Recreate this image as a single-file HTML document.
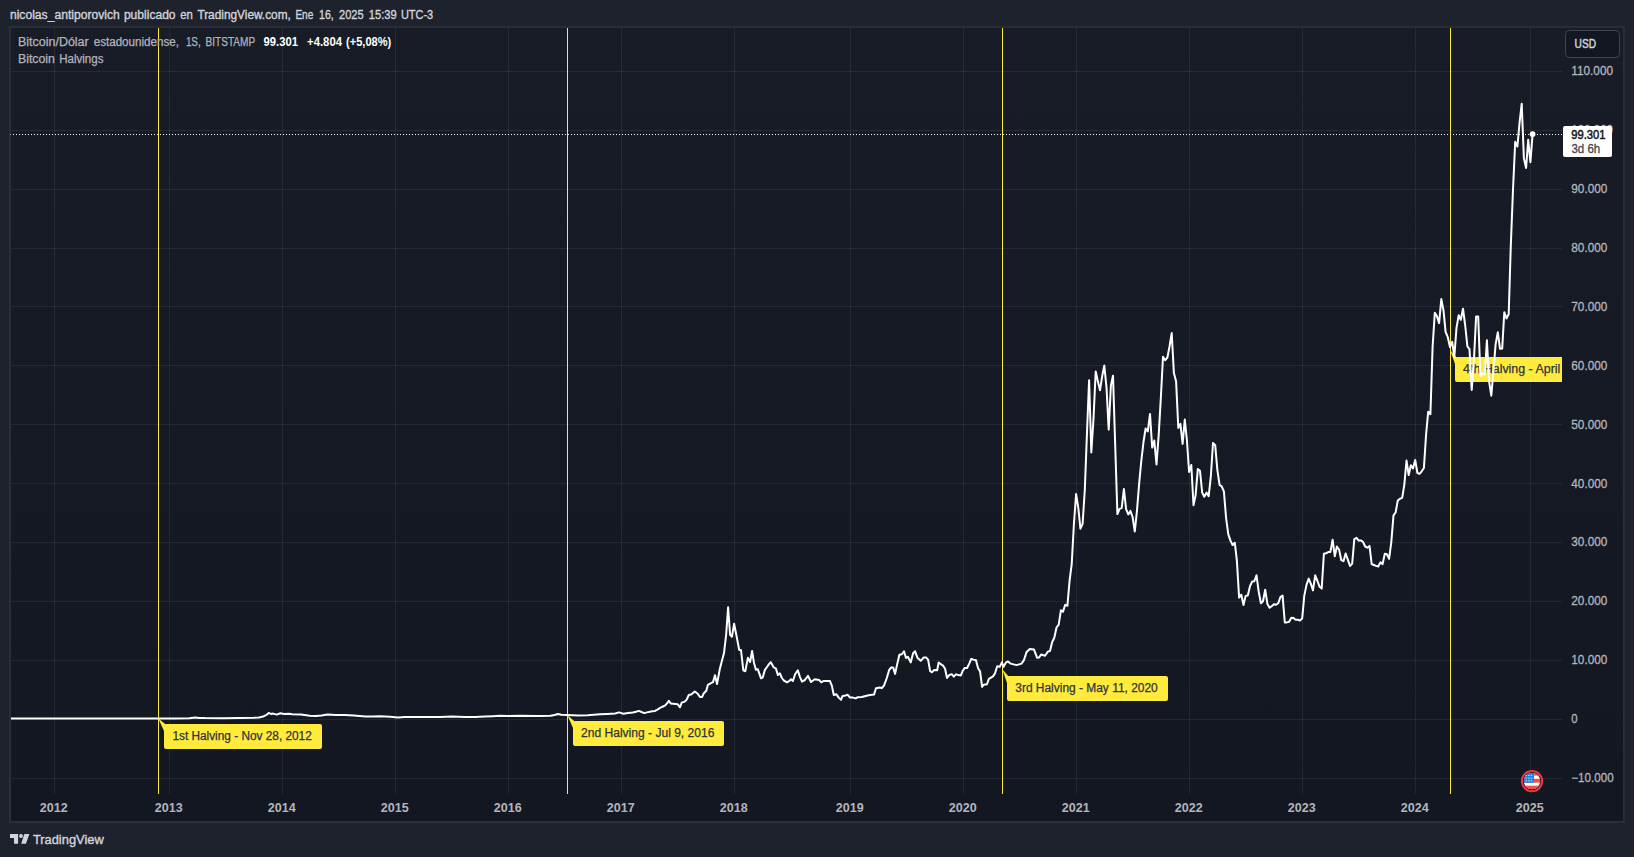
<!DOCTYPE html>
<html lang="es"><head><meta charset="utf-8"><title>Bitcoin Halvings</title>
<style>
html,body{margin:0;padding:0;background:#1e222d;}
body{width:1634px;height:857px;overflow:hidden;position:relative;font-family:'Liberation Sans', sans-serif;}
#frame{position:absolute;left:9px;top:26px;width:1616px;height:797px;box-sizing:border-box;border:2px solid #2a2e39;background:linear-gradient(#181c27,#131722);}
svg{position:absolute;left:0;top:0;}
text{font-family:'Liberation Sans', sans-serif;}
.ax{font-size:12px;fill:#b2b5be;stroke:#b2b5be;stroke-width:0.3px;}
.yr{font-size:12px;fill:#b2b5be;font-weight:bold;text-anchor:middle;}
.lb{font-size:12px;fill:#2f3241;stroke:#2f3241;stroke-width:0.25px;}
</style></head><body>
<div id="frame"></div>
<svg width="1634" height="857" viewBox="0 0 1634 857">
<defs><clipPath id="pane"><rect x="11" y="28" width="1551" height="766"/></clipPath></defs>

<text y="19" font-size="12" fill="#d1d4dc" stroke="#d1d4dc" stroke-width="0.35"><tspan x="9.9" textLength="109.9" lengthAdjust="spacingAndGlyphs">nicolas_antiporovich</tspan> <tspan x="123.9" textLength="51.7" lengthAdjust="spacingAndGlyphs">publicado</tspan> <tspan x="180.2" textLength="12.6" lengthAdjust="spacingAndGlyphs">en</tspan> <tspan x="197.4" textLength="93.4" lengthAdjust="spacingAndGlyphs">TradingView.com,</tspan> <tspan x="295.4" textLength="17.9" lengthAdjust="spacingAndGlyphs">Ene</tspan> <tspan x="319.1" textLength="14.7" lengthAdjust="spacingAndGlyphs">16,</tspan> <tspan x="339.0" textLength="24.6" lengthAdjust="spacingAndGlyphs">2025</tspan> <tspan x="368.8" textLength="27.8" lengthAdjust="spacingAndGlyphs">15:39</tspan> <tspan x="400.9" textLength="32.3" lengthAdjust="spacingAndGlyphs">UTC-3</tspan></text>
<g shape-rendering="crispEdges" fill="#f0f3fa" fill-opacity="0.07">
<rect x="54" y="28" width="1" height="766"/>
<rect x="169" y="28" width="1" height="766"/>
<rect x="282" y="28" width="1" height="766"/>
<rect x="395" y="28" width="1" height="766"/>
<rect x="508" y="28" width="1" height="766"/>
<rect x="621" y="28" width="1" height="766"/>
<rect x="734" y="28" width="1" height="766"/>
<rect x="850" y="28" width="1" height="766"/>
<rect x="963" y="28" width="1" height="766"/>
<rect x="1076" y="28" width="1" height="766"/>
<rect x="1189" y="28" width="1" height="766"/>
<rect x="1302" y="28" width="1" height="766"/>
<rect x="1415" y="28" width="1" height="766"/>
<rect x="1530" y="28" width="1" height="766"/>
<rect x="11" y="71" width="1551" height="1"/>
<rect x="11" y="130" width="1551" height="1"/>
<rect x="11" y="189" width="1551" height="1"/>
<rect x="11" y="248" width="1551" height="1"/>
<rect x="11" y="306" width="1551" height="1"/>
<rect x="11" y="365" width="1551" height="1"/>
<rect x="11" y="424" width="1551" height="1"/>
<rect x="11" y="483" width="1551" height="1"/>
<rect x="11" y="542" width="1551" height="1"/>
<rect x="11" y="601" width="1551" height="1"/>
<rect x="11" y="660" width="1551" height="1"/>
<rect x="11" y="719" width="1551" height="1"/>
<rect x="11" y="778" width="1551" height="1"/>
</g>
<g shape-rendering="crispEdges" fill="#ffeb3b">
<rect x="158" y="28" width="1" height="766"/>
<rect x="567" y="28" width="1" height="766"/>
<rect x="1002" y="28" width="1" height="766"/>
<rect x="1450" y="28" width="1" height="766"/>
</g>
<g clip-path="url(#pane)"><path d="M158.3,718.4 L165.2,724 L167,727 L164,731 Z" fill="#ffeb3b"/><rect x="164" y="724" width="158" height="25" rx="2" fill="#ffeb3b"/><text class="lb" x="172.4" y="739.7" textLength="139.4" lengthAdjust="spacingAndGlyphs">1st Halving - Nov 28, 2012</text></g>
<g clip-path="url(#pane)"><path d="M567.3,715.0 L574.2,721 L576,724 L573,728 Z" fill="#ffeb3b"/><rect x="573" y="721" width="151" height="25" rx="2" fill="#ffeb3b"/><text class="lb" x="581" y="736.7" textLength="133.4" lengthAdjust="spacingAndGlyphs">2nd Halving - Jul 9, 2016</text></g>
<g clip-path="url(#pane)"><path d="M1002.3,669.2 L1008.2,676 L1010,679 L1007,683 Z" fill="#ffeb3b"/><rect x="1007" y="676" width="161" height="25" rx="2" fill="#ffeb3b"/><text class="lb" x="1015.3" y="691.7" textLength="142.4" lengthAdjust="spacingAndGlyphs">3rd Halving - May 11, 2020</text></g>
<g clip-path="url(#pane)"><path d="M1450.3,350.6 L1456.2,357 L1458,360 L1455,364 Z" fill="#ffeb3b"/><rect x="1455" y="357" width="164" height="25" rx="2" fill="#ffeb3b"/><text class="lb" x="1463.1" y="372.7" textLength="149" lengthAdjust="spacingAndGlyphs">4th Halving - April 19, 2024</text></g>
<g shape-rendering="crispEdges" fill="#ffffff">
<rect x="10" y="134" width="1" height="1" fill-opacity="0.55"/>
<rect x="13" y="134" width="1" height="1"/><rect x="16" y="134" width="1" height="1"/><rect x="19" y="134" width="1" height="1"/><rect x="22" y="134" width="1" height="1"/><rect x="25" y="134" width="1" height="1"/><rect x="28" y="134" width="1" height="1"/><rect x="31" y="134" width="1" height="1"/><rect x="34" y="134" width="1" height="1"/><rect x="37" y="134" width="1" height="1"/><rect x="40" y="134" width="1" height="1"/><rect x="43" y="134" width="1" height="1"/><rect x="46" y="134" width="1" height="1"/><rect x="49" y="134" width="1" height="1"/><rect x="52" y="134" width="1" height="1"/><rect x="55" y="134" width="1" height="1"/><rect x="58" y="134" width="1" height="1"/><rect x="61" y="134" width="1" height="1"/><rect x="64" y="134" width="1" height="1"/><rect x="67" y="134" width="1" height="1"/><rect x="70" y="134" width="1" height="1"/><rect x="73" y="134" width="1" height="1"/><rect x="76" y="134" width="1" height="1"/><rect x="79" y="134" width="1" height="1"/><rect x="82" y="134" width="1" height="1"/><rect x="85" y="134" width="1" height="1"/><rect x="88" y="134" width="1" height="1"/><rect x="91" y="134" width="1" height="1"/><rect x="94" y="134" width="1" height="1"/><rect x="97" y="134" width="1" height="1"/><rect x="100" y="134" width="1" height="1"/><rect x="103" y="134" width="1" height="1"/><rect x="106" y="134" width="1" height="1"/><rect x="109" y="134" width="1" height="1"/><rect x="112" y="134" width="1" height="1"/><rect x="115" y="134" width="1" height="1"/><rect x="118" y="134" width="1" height="1"/><rect x="121" y="134" width="1" height="1"/><rect x="124" y="134" width="1" height="1"/><rect x="127" y="134" width="1" height="1"/><rect x="130" y="134" width="1" height="1"/><rect x="133" y="134" width="1" height="1"/><rect x="136" y="134" width="1" height="1"/><rect x="139" y="134" width="1" height="1"/><rect x="142" y="134" width="1" height="1"/><rect x="145" y="134" width="1" height="1"/><rect x="148" y="134" width="1" height="1"/><rect x="151" y="134" width="1" height="1"/><rect x="154" y="134" width="1" height="1"/><rect x="157" y="134" width="1" height="1"/><rect x="160" y="134" width="1" height="1"/><rect x="163" y="134" width="1" height="1"/><rect x="166" y="134" width="1" height="1"/><rect x="169" y="134" width="1" height="1"/><rect x="172" y="134" width="1" height="1"/><rect x="175" y="134" width="1" height="1"/><rect x="178" y="134" width="1" height="1"/><rect x="181" y="134" width="1" height="1"/><rect x="184" y="134" width="1" height="1"/><rect x="187" y="134" width="1" height="1"/><rect x="190" y="134" width="1" height="1"/><rect x="193" y="134" width="1" height="1"/><rect x="196" y="134" width="1" height="1"/><rect x="199" y="134" width="1" height="1"/><rect x="202" y="134" width="1" height="1"/><rect x="205" y="134" width="1" height="1"/><rect x="208" y="134" width="1" height="1"/><rect x="211" y="134" width="1" height="1"/><rect x="214" y="134" width="1" height="1"/><rect x="217" y="134" width="1" height="1"/><rect x="220" y="134" width="1" height="1"/><rect x="223" y="134" width="1" height="1"/><rect x="226" y="134" width="1" height="1"/><rect x="229" y="134" width="1" height="1"/><rect x="232" y="134" width="1" height="1"/><rect x="235" y="134" width="1" height="1"/><rect x="238" y="134" width="1" height="1"/><rect x="241" y="134" width="1" height="1"/><rect x="244" y="134" width="1" height="1"/><rect x="247" y="134" width="1" height="1"/><rect x="250" y="134" width="1" height="1"/><rect x="253" y="134" width="1" height="1"/><rect x="256" y="134" width="1" height="1"/><rect x="259" y="134" width="1" height="1"/><rect x="262" y="134" width="1" height="1"/><rect x="265" y="134" width="1" height="1"/><rect x="268" y="134" width="1" height="1"/><rect x="271" y="134" width="1" height="1"/><rect x="274" y="134" width="1" height="1"/><rect x="277" y="134" width="1" height="1"/><rect x="280" y="134" width="1" height="1"/><rect x="283" y="134" width="1" height="1"/><rect x="286" y="134" width="1" height="1"/><rect x="289" y="134" width="1" height="1"/><rect x="292" y="134" width="1" height="1"/><rect x="295" y="134" width="1" height="1"/><rect x="298" y="134" width="1" height="1"/><rect x="301" y="134" width="1" height="1"/><rect x="304" y="134" width="1" height="1"/><rect x="307" y="134" width="1" height="1"/><rect x="310" y="134" width="1" height="1"/><rect x="313" y="134" width="1" height="1"/><rect x="316" y="134" width="1" height="1"/><rect x="319" y="134" width="1" height="1"/><rect x="322" y="134" width="1" height="1"/><rect x="325" y="134" width="1" height="1"/><rect x="328" y="134" width="1" height="1"/><rect x="331" y="134" width="1" height="1"/><rect x="334" y="134" width="1" height="1"/><rect x="337" y="134" width="1" height="1"/><rect x="340" y="134" width="1" height="1"/><rect x="343" y="134" width="1" height="1"/><rect x="346" y="134" width="1" height="1"/><rect x="349" y="134" width="1" height="1"/><rect x="352" y="134" width="1" height="1"/><rect x="355" y="134" width="1" height="1"/><rect x="358" y="134" width="1" height="1"/><rect x="361" y="134" width="1" height="1"/><rect x="364" y="134" width="1" height="1"/><rect x="367" y="134" width="1" height="1"/><rect x="370" y="134" width="1" height="1"/><rect x="373" y="134" width="1" height="1"/><rect x="376" y="134" width="1" height="1"/><rect x="379" y="134" width="1" height="1"/><rect x="382" y="134" width="1" height="1"/><rect x="385" y="134" width="1" height="1"/><rect x="388" y="134" width="1" height="1"/><rect x="391" y="134" width="1" height="1"/><rect x="394" y="134" width="1" height="1"/><rect x="397" y="134" width="1" height="1"/><rect x="400" y="134" width="1" height="1"/><rect x="403" y="134" width="1" height="1"/><rect x="406" y="134" width="1" height="1"/><rect x="409" y="134" width="1" height="1"/><rect x="412" y="134" width="1" height="1"/><rect x="415" y="134" width="1" height="1"/><rect x="418" y="134" width="1" height="1"/><rect x="421" y="134" width="1" height="1"/><rect x="424" y="134" width="1" height="1"/><rect x="427" y="134" width="1" height="1"/><rect x="430" y="134" width="1" height="1"/><rect x="433" y="134" width="1" height="1"/><rect x="436" y="134" width="1" height="1"/><rect x="439" y="134" width="1" height="1"/><rect x="442" y="134" width="1" height="1"/><rect x="445" y="134" width="1" height="1"/><rect x="448" y="134" width="1" height="1"/><rect x="451" y="134" width="1" height="1"/><rect x="454" y="134" width="1" height="1"/><rect x="457" y="134" width="1" height="1"/><rect x="460" y="134" width="1" height="1"/><rect x="463" y="134" width="1" height="1"/><rect x="466" y="134" width="1" height="1"/><rect x="469" y="134" width="1" height="1"/><rect x="472" y="134" width="1" height="1"/><rect x="475" y="134" width="1" height="1"/><rect x="478" y="134" width="1" height="1"/><rect x="481" y="134" width="1" height="1"/><rect x="484" y="134" width="1" height="1"/><rect x="487" y="134" width="1" height="1"/><rect x="490" y="134" width="1" height="1"/><rect x="493" y="134" width="1" height="1"/><rect x="496" y="134" width="1" height="1"/><rect x="499" y="134" width="1" height="1"/><rect x="502" y="134" width="1" height="1"/><rect x="505" y="134" width="1" height="1"/><rect x="508" y="134" width="1" height="1"/><rect x="511" y="134" width="1" height="1"/><rect x="514" y="134" width="1" height="1"/><rect x="517" y="134" width="1" height="1"/><rect x="520" y="134" width="1" height="1"/><rect x="523" y="134" width="1" height="1"/><rect x="526" y="134" width="1" height="1"/><rect x="529" y="134" width="1" height="1"/><rect x="532" y="134" width="1" height="1"/><rect x="535" y="134" width="1" height="1"/><rect x="538" y="134" width="1" height="1"/><rect x="541" y="134" width="1" height="1"/><rect x="544" y="134" width="1" height="1"/><rect x="547" y="134" width="1" height="1"/><rect x="550" y="134" width="1" height="1"/><rect x="553" y="134" width="1" height="1"/><rect x="556" y="134" width="1" height="1"/><rect x="559" y="134" width="1" height="1"/><rect x="562" y="134" width="1" height="1"/><rect x="565" y="134" width="1" height="1"/><rect x="568" y="134" width="1" height="1"/><rect x="571" y="134" width="1" height="1"/><rect x="574" y="134" width="1" height="1"/><rect x="577" y="134" width="1" height="1"/><rect x="580" y="134" width="1" height="1"/><rect x="583" y="134" width="1" height="1"/><rect x="586" y="134" width="1" height="1"/><rect x="589" y="134" width="1" height="1"/><rect x="592" y="134" width="1" height="1"/><rect x="595" y="134" width="1" height="1"/><rect x="598" y="134" width="1" height="1"/><rect x="601" y="134" width="1" height="1"/><rect x="604" y="134" width="1" height="1"/><rect x="607" y="134" width="1" height="1"/><rect x="610" y="134" width="1" height="1"/><rect x="613" y="134" width="1" height="1"/><rect x="616" y="134" width="1" height="1"/><rect x="619" y="134" width="1" height="1"/><rect x="622" y="134" width="1" height="1"/><rect x="625" y="134" width="1" height="1"/><rect x="628" y="134" width="1" height="1"/><rect x="631" y="134" width="1" height="1"/><rect x="634" y="134" width="1" height="1"/><rect x="637" y="134" width="1" height="1"/><rect x="640" y="134" width="1" height="1"/><rect x="643" y="134" width="1" height="1"/><rect x="646" y="134" width="1" height="1"/><rect x="649" y="134" width="1" height="1"/><rect x="652" y="134" width="1" height="1"/><rect x="655" y="134" width="1" height="1"/><rect x="658" y="134" width="1" height="1"/><rect x="661" y="134" width="1" height="1"/><rect x="664" y="134" width="1" height="1"/><rect x="667" y="134" width="1" height="1"/><rect x="670" y="134" width="1" height="1"/><rect x="673" y="134" width="1" height="1"/><rect x="676" y="134" width="1" height="1"/><rect x="679" y="134" width="1" height="1"/><rect x="682" y="134" width="1" height="1"/><rect x="685" y="134" width="1" height="1"/><rect x="688" y="134" width="1" height="1"/><rect x="691" y="134" width="1" height="1"/><rect x="694" y="134" width="1" height="1"/><rect x="697" y="134" width="1" height="1"/><rect x="700" y="134" width="1" height="1"/><rect x="703" y="134" width="1" height="1"/><rect x="706" y="134" width="1" height="1"/><rect x="709" y="134" width="1" height="1"/><rect x="712" y="134" width="1" height="1"/><rect x="715" y="134" width="1" height="1"/><rect x="718" y="134" width="1" height="1"/><rect x="721" y="134" width="1" height="1"/><rect x="724" y="134" width="1" height="1"/><rect x="727" y="134" width="1" height="1"/><rect x="730" y="134" width="1" height="1"/><rect x="733" y="134" width="1" height="1"/><rect x="736" y="134" width="1" height="1"/><rect x="739" y="134" width="1" height="1"/><rect x="742" y="134" width="1" height="1"/><rect x="745" y="134" width="1" height="1"/><rect x="748" y="134" width="1" height="1"/><rect x="751" y="134" width="1" height="1"/><rect x="754" y="134" width="1" height="1"/><rect x="757" y="134" width="1" height="1"/><rect x="760" y="134" width="1" height="1"/><rect x="763" y="134" width="1" height="1"/><rect x="766" y="134" width="1" height="1"/><rect x="769" y="134" width="1" height="1"/><rect x="772" y="134" width="1" height="1"/><rect x="775" y="134" width="1" height="1"/><rect x="778" y="134" width="1" height="1"/><rect x="781" y="134" width="1" height="1"/><rect x="784" y="134" width="1" height="1"/><rect x="787" y="134" width="1" height="1"/><rect x="790" y="134" width="1" height="1"/><rect x="793" y="134" width="1" height="1"/><rect x="796" y="134" width="1" height="1"/><rect x="799" y="134" width="1" height="1"/><rect x="802" y="134" width="1" height="1"/><rect x="805" y="134" width="1" height="1"/><rect x="808" y="134" width="1" height="1"/><rect x="811" y="134" width="1" height="1"/><rect x="814" y="134" width="1" height="1"/><rect x="817" y="134" width="1" height="1"/><rect x="820" y="134" width="1" height="1"/><rect x="823" y="134" width="1" height="1"/><rect x="826" y="134" width="1" height="1"/><rect x="829" y="134" width="1" height="1"/><rect x="832" y="134" width="1" height="1"/><rect x="835" y="134" width="1" height="1"/><rect x="838" y="134" width="1" height="1"/><rect x="841" y="134" width="1" height="1"/><rect x="844" y="134" width="1" height="1"/><rect x="847" y="134" width="1" height="1"/><rect x="850" y="134" width="1" height="1"/><rect x="853" y="134" width="1" height="1"/><rect x="856" y="134" width="1" height="1"/><rect x="859" y="134" width="1" height="1"/><rect x="862" y="134" width="1" height="1"/><rect x="865" y="134" width="1" height="1"/><rect x="868" y="134" width="1" height="1"/><rect x="871" y="134" width="1" height="1"/><rect x="874" y="134" width="1" height="1"/><rect x="877" y="134" width="1" height="1"/><rect x="880" y="134" width="1" height="1"/><rect x="883" y="134" width="1" height="1"/><rect x="886" y="134" width="1" height="1"/><rect x="889" y="134" width="1" height="1"/><rect x="892" y="134" width="1" height="1"/><rect x="895" y="134" width="1" height="1"/><rect x="898" y="134" width="1" height="1"/><rect x="901" y="134" width="1" height="1"/><rect x="904" y="134" width="1" height="1"/><rect x="907" y="134" width="1" height="1"/><rect x="910" y="134" width="1" height="1"/><rect x="913" y="134" width="1" height="1"/><rect x="916" y="134" width="1" height="1"/><rect x="919" y="134" width="1" height="1"/><rect x="922" y="134" width="1" height="1"/><rect x="925" y="134" width="1" height="1"/><rect x="928" y="134" width="1" height="1"/><rect x="931" y="134" width="1" height="1"/><rect x="934" y="134" width="1" height="1"/><rect x="937" y="134" width="1" height="1"/><rect x="940" y="134" width="1" height="1"/><rect x="943" y="134" width="1" height="1"/><rect x="946" y="134" width="1" height="1"/><rect x="949" y="134" width="1" height="1"/><rect x="952" y="134" width="1" height="1"/><rect x="955" y="134" width="1" height="1"/><rect x="958" y="134" width="1" height="1"/><rect x="961" y="134" width="1" height="1"/><rect x="964" y="134" width="1" height="1"/><rect x="967" y="134" width="1" height="1"/><rect x="970" y="134" width="1" height="1"/><rect x="973" y="134" width="1" height="1"/><rect x="976" y="134" width="1" height="1"/><rect x="979" y="134" width="1" height="1"/><rect x="982" y="134" width="1" height="1"/><rect x="985" y="134" width="1" height="1"/><rect x="988" y="134" width="1" height="1"/><rect x="991" y="134" width="1" height="1"/><rect x="994" y="134" width="1" height="1"/><rect x="997" y="134" width="1" height="1"/><rect x="1000" y="134" width="1" height="1"/><rect x="1003" y="134" width="1" height="1"/><rect x="1006" y="134" width="1" height="1"/><rect x="1009" y="134" width="1" height="1"/><rect x="1012" y="134" width="1" height="1"/><rect x="1015" y="134" width="1" height="1"/><rect x="1018" y="134" width="1" height="1"/><rect x="1021" y="134" width="1" height="1"/><rect x="1024" y="134" width="1" height="1"/><rect x="1027" y="134" width="1" height="1"/><rect x="1030" y="134" width="1" height="1"/><rect x="1033" y="134" width="1" height="1"/><rect x="1036" y="134" width="1" height="1"/><rect x="1039" y="134" width="1" height="1"/><rect x="1042" y="134" width="1" height="1"/><rect x="1045" y="134" width="1" height="1"/><rect x="1048" y="134" width="1" height="1"/><rect x="1051" y="134" width="1" height="1"/><rect x="1054" y="134" width="1" height="1"/><rect x="1057" y="134" width="1" height="1"/><rect x="1060" y="134" width="1" height="1"/><rect x="1063" y="134" width="1" height="1"/><rect x="1066" y="134" width="1" height="1"/><rect x="1069" y="134" width="1" height="1"/><rect x="1072" y="134" width="1" height="1"/><rect x="1075" y="134" width="1" height="1"/><rect x="1078" y="134" width="1" height="1"/><rect x="1081" y="134" width="1" height="1"/><rect x="1084" y="134" width="1" height="1"/><rect x="1087" y="134" width="1" height="1"/><rect x="1090" y="134" width="1" height="1"/><rect x="1093" y="134" width="1" height="1"/><rect x="1096" y="134" width="1" height="1"/><rect x="1099" y="134" width="1" height="1"/><rect x="1102" y="134" width="1" height="1"/><rect x="1105" y="134" width="1" height="1"/><rect x="1108" y="134" width="1" height="1"/><rect x="1111" y="134" width="1" height="1"/><rect x="1114" y="134" width="1" height="1"/><rect x="1117" y="134" width="1" height="1"/><rect x="1120" y="134" width="1" height="1"/><rect x="1123" y="134" width="1" height="1"/><rect x="1126" y="134" width="1" height="1"/><rect x="1129" y="134" width="1" height="1"/><rect x="1132" y="134" width="1" height="1"/><rect x="1135" y="134" width="1" height="1"/><rect x="1138" y="134" width="1" height="1"/><rect x="1141" y="134" width="1" height="1"/><rect x="1144" y="134" width="1" height="1"/><rect x="1147" y="134" width="1" height="1"/><rect x="1150" y="134" width="1" height="1"/><rect x="1153" y="134" width="1" height="1"/><rect x="1156" y="134" width="1" height="1"/><rect x="1159" y="134" width="1" height="1"/><rect x="1162" y="134" width="1" height="1"/><rect x="1165" y="134" width="1" height="1"/><rect x="1168" y="134" width="1" height="1"/><rect x="1171" y="134" width="1" height="1"/><rect x="1174" y="134" width="1" height="1"/><rect x="1177" y="134" width="1" height="1"/><rect x="1180" y="134" width="1" height="1"/><rect x="1183" y="134" width="1" height="1"/><rect x="1186" y="134" width="1" height="1"/><rect x="1189" y="134" width="1" height="1"/><rect x="1192" y="134" width="1" height="1"/><rect x="1195" y="134" width="1" height="1"/><rect x="1198" y="134" width="1" height="1"/><rect x="1201" y="134" width="1" height="1"/><rect x="1204" y="134" width="1" height="1"/><rect x="1207" y="134" width="1" height="1"/><rect x="1210" y="134" width="1" height="1"/><rect x="1213" y="134" width="1" height="1"/><rect x="1216" y="134" width="1" height="1"/><rect x="1219" y="134" width="1" height="1"/><rect x="1222" y="134" width="1" height="1"/><rect x="1225" y="134" width="1" height="1"/><rect x="1228" y="134" width="1" height="1"/><rect x="1231" y="134" width="1" height="1"/><rect x="1234" y="134" width="1" height="1"/><rect x="1237" y="134" width="1" height="1"/><rect x="1240" y="134" width="1" height="1"/><rect x="1243" y="134" width="1" height="1"/><rect x="1246" y="134" width="1" height="1"/><rect x="1249" y="134" width="1" height="1"/><rect x="1252" y="134" width="1" height="1"/><rect x="1255" y="134" width="1" height="1"/><rect x="1258" y="134" width="1" height="1"/><rect x="1261" y="134" width="1" height="1"/><rect x="1264" y="134" width="1" height="1"/><rect x="1267" y="134" width="1" height="1"/><rect x="1270" y="134" width="1" height="1"/><rect x="1273" y="134" width="1" height="1"/><rect x="1276" y="134" width="1" height="1"/><rect x="1279" y="134" width="1" height="1"/><rect x="1282" y="134" width="1" height="1"/><rect x="1285" y="134" width="1" height="1"/><rect x="1288" y="134" width="1" height="1"/><rect x="1291" y="134" width="1" height="1"/><rect x="1294" y="134" width="1" height="1"/><rect x="1297" y="134" width="1" height="1"/><rect x="1300" y="134" width="1" height="1"/><rect x="1303" y="134" width="1" height="1"/><rect x="1306" y="134" width="1" height="1"/><rect x="1309" y="134" width="1" height="1"/><rect x="1312" y="134" width="1" height="1"/><rect x="1315" y="134" width="1" height="1"/><rect x="1318" y="134" width="1" height="1"/><rect x="1321" y="134" width="1" height="1"/><rect x="1324" y="134" width="1" height="1"/><rect x="1327" y="134" width="1" height="1"/><rect x="1330" y="134" width="1" height="1"/><rect x="1333" y="134" width="1" height="1"/><rect x="1336" y="134" width="1" height="1"/><rect x="1339" y="134" width="1" height="1"/><rect x="1342" y="134" width="1" height="1"/><rect x="1345" y="134" width="1" height="1"/><rect x="1348" y="134" width="1" height="1"/><rect x="1351" y="134" width="1" height="1"/><rect x="1354" y="134" width="1" height="1"/><rect x="1357" y="134" width="1" height="1"/><rect x="1360" y="134" width="1" height="1"/><rect x="1363" y="134" width="1" height="1"/><rect x="1366" y="134" width="1" height="1"/><rect x="1369" y="134" width="1" height="1"/><rect x="1372" y="134" width="1" height="1"/><rect x="1375" y="134" width="1" height="1"/><rect x="1378" y="134" width="1" height="1"/><rect x="1381" y="134" width="1" height="1"/><rect x="1384" y="134" width="1" height="1"/><rect x="1387" y="134" width="1" height="1"/><rect x="1390" y="134" width="1" height="1"/><rect x="1393" y="134" width="1" height="1"/><rect x="1396" y="134" width="1" height="1"/><rect x="1399" y="134" width="1" height="1"/><rect x="1402" y="134" width="1" height="1"/><rect x="1405" y="134" width="1" height="1"/><rect x="1408" y="134" width="1" height="1"/><rect x="1411" y="134" width="1" height="1"/><rect x="1414" y="134" width="1" height="1"/><rect x="1417" y="134" width="1" height="1"/><rect x="1420" y="134" width="1" height="1"/><rect x="1423" y="134" width="1" height="1"/><rect x="1426" y="134" width="1" height="1"/><rect x="1429" y="134" width="1" height="1"/><rect x="1432" y="134" width="1" height="1"/><rect x="1435" y="134" width="1" height="1"/><rect x="1438" y="134" width="1" height="1"/><rect x="1441" y="134" width="1" height="1"/><rect x="1444" y="134" width="1" height="1"/><rect x="1447" y="134" width="1" height="1"/><rect x="1450" y="134" width="1" height="1"/><rect x="1453" y="134" width="1" height="1"/><rect x="1456" y="134" width="1" height="1"/><rect x="1459" y="134" width="1" height="1"/><rect x="1462" y="134" width="1" height="1"/><rect x="1465" y="134" width="1" height="1"/><rect x="1468" y="134" width="1" height="1"/><rect x="1471" y="134" width="1" height="1"/><rect x="1474" y="134" width="1" height="1"/><rect x="1477" y="134" width="1" height="1"/><rect x="1480" y="134" width="1" height="1"/><rect x="1483" y="134" width="1" height="1"/><rect x="1486" y="134" width="1" height="1"/><rect x="1489" y="134" width="1" height="1"/><rect x="1492" y="134" width="1" height="1"/><rect x="1495" y="134" width="1" height="1"/><rect x="1498" y="134" width="1" height="1"/><rect x="1501" y="134" width="1" height="1"/><rect x="1504" y="134" width="1" height="1"/><rect x="1507" y="134" width="1" height="1"/><rect x="1510" y="134" width="1" height="1"/><rect x="1513" y="134" width="1" height="1"/><rect x="1516" y="134" width="1" height="1"/><rect x="1519" y="134" width="1" height="1"/><rect x="1522" y="134" width="1" height="1"/><rect x="1525" y="134" width="1" height="1"/><rect x="1528" y="134" width="1" height="1"/><rect x="1531" y="134" width="1" height="1"/><rect x="1534" y="134" width="1" height="1"/><rect x="1537" y="134" width="1" height="1"/><rect x="1540" y="134" width="1" height="1"/><rect x="1543" y="134" width="1" height="1"/><rect x="1546" y="134" width="1" height="1"/><rect x="1549" y="134" width="1" height="1"/><rect x="1552" y="134" width="1" height="1"/><rect x="1555" y="134" width="1" height="1"/><rect x="1558" y="134" width="1" height="1"/><rect x="1561" y="134" width="1" height="1"/>
</g>
<g clip-path="url(#pane)"><polyline points="11.0,718.6 54.0,718.6 120.0,718.6 158.0,718.5 175.0,718.5 189.4,718.2 195.3,717.5 199.0,717.9 205.0,718.1 221.7,718.2 240.0,718.1 254.0,717.8 259.0,717.5 263.0,716.6 266.0,715.2 268.7,713.0 271.0,713.9 273.0,713.6 276.8,714.6 280.4,713.3 284.0,713.9 289.2,713.8 292.2,714.3 301.0,714.6 309.8,715.8 316.0,716.1 321.5,715.5 327.4,714.6 336.0,714.9 345.0,715.0 353.9,715.6 365.6,716.4 372.0,716.6 380.0,716.3 390.0,716.8 397.6,717.4 405.0,717.0 420.0,716.9 440.0,716.9 452.0,716.6 465.0,716.9 475.0,717.0 485.0,716.6 493.0,716.2 499.6,715.8 508.4,716.1 519.2,715.8 538.8,716.1 550.5,715.8 554.5,715.0 557.9,714.0 561.3,714.8 567.2,715.0 578.0,715.5 587.7,715.2 600.0,714.3 607.3,713.9 615.2,713.5 618.9,712.4 623.5,713.7 628.0,713.1 632.9,712.4 636.0,711.7 638.9,710.9 641.5,712.0 644.3,713.1 647.0,712.4 649.7,711.7 652.4,711.3 655.1,710.9 657.8,709.4 660.5,707.7 663.0,706.5 665.2,705.3 667.0,703.3 668.9,700.9 670.9,703.6 673.2,703.8 675.4,704.0 677.6,704.2 680.0,707.3 681.7,702.6 684.7,701.6 686.7,699.6 688.8,694.9 691.1,694.6 693.0,693.0 694.8,691.5 697.5,693.5 699.9,696.9 702.2,696.9 703.6,693.5 706.3,690.8 707.9,684.8 710.5,683.4 713.0,682.1 715.0,675.2 717.0,684.1 719.8,669.0 722.0,660.5 724.0,653.1 726.2,634.1 728.1,607.2 730.1,634.9 731.9,636.8 734.1,623.8 736.5,635.7 739.2,650.0 741.0,650.0 743.3,670.4 745.3,671.2 747.9,657.7 750.1,662.1 752.1,651.0 753.9,662.4 755.9,669.7 757.8,669.2 761.0,678.3 762.7,677.5 764.9,669.9 767.0,667.0 769.0,664.2 770.8,662.2 773.5,667.1 776.0,668.7 777.9,675.1 779.9,673.3 781.9,678.0 783.8,680.5 787.1,682.3 789.2,681.0 791.0,679.2 792.9,681.0 795.1,674.3 797.8,670.4 800.0,677.1 802.0,681.6 804.9,680.0 808.0,675.9 811.0,682.0 814.7,679.2 819.1,680.0 821.3,682.3 823.5,681.0 825.7,681.0 827.8,681.0 829.9,681.0 831.9,685.9 833.8,695.0 836.3,694.2 838.7,697.6 841.0,699.8 842.6,695.9 845.6,695.5 847.5,694.7 850.0,697.5 852.9,697.6 855.7,698.4 857.8,697.2 861.8,697.0 868.6,695.2 874.0,694.6 876.0,688.2 879.9,687.4 881.9,688.2 884.1,685.4 886.8,678.0 889.2,669.9 891.2,667.5 893.1,667.4 895.1,673.9 897.2,664.1 899.4,654.8 901.9,654.3 904.0,651.3 906.0,658.0 907.9,656.8 910.7,662.4 913.1,653.3 915.1,651.3 917.4,657.7 920.7,660.8 923.6,657.6 926.2,657.6 928.1,659.7 930.1,671.0 931.8,672.3 934.2,670.0 937.2,670.2 938.6,662.6 943.0,665.6 945.0,668.5 947.0,678.0 949.4,674.9 951.7,674.2 953.8,676.7 956.0,674.2 958.2,675.1 960.9,675.4 962.6,671.0 964.8,667.9 967.1,668.0 969.0,664.1 971.3,658.8 973.4,659.7 975.9,660.0 978.1,668.2 980.1,671.5 982.1,686.8 983.7,684.7 987.0,684.2 988.9,678.8 993.0,676.4 995.0,673.4 997.2,666.3 999.7,666.9 1001.9,662.4 1003.6,666.9 1005.8,662.6 1007.9,661.5 1010.7,663.6 1016.6,665.1 1021.5,663.6 1023.9,660.2 1026.6,651.9 1029.8,648.9 1034.0,649.6 1037.2,657.8 1039.1,657.5 1041.1,654.5 1045.0,655.8 1047.8,651.7 1050.0,650.9 1052.2,642.0 1054.3,637.7 1056.5,627.5 1058.7,624.7 1060.9,610.3 1063.0,611.6 1065.2,604.8 1067.4,605.8 1069.6,580.5 1071.7,564.1 1073.9,524.4 1076.1,493.9 1078.3,507.8 1080.4,528.7 1082.6,523.8 1084.8,489.9 1087.0,432.4 1089.1,380.3 1091.3,452.4 1093.5,418.7 1095.7,371.4 1097.8,381.0 1100.0,390.3 1102.2,376.1 1104.3,365.5 1106.5,387.4 1108.7,429.6 1110.9,385.4 1113.0,375.8 1115.2,445.4 1117.4,514.1 1119.6,508.8 1121.7,507.9 1123.9,489.0 1126.1,509.1 1128.3,514.4 1130.4,510.9 1132.6,517.0 1134.8,531.5 1137.0,510.3 1139.1,484.1 1141.3,460.8 1143.5,442.0 1145.6,428.5 1147.8,431.4 1150.0,413.9 1152.2,447.6 1154.3,440.5 1156.5,464.4 1158.7,434.9 1160.9,396.7 1163.0,356.7 1165.2,360.2 1167.4,357.5 1169.6,346.1 1171.7,333.1 1173.9,373.1 1176.1,381.4 1178.3,427.9 1180.4,423.8 1182.6,443.8 1184.8,419.6 1186.9,440.2 1189.1,472.0 1191.3,465.0 1193.5,505.3 1195.6,495.3 1197.8,469.1 1200.0,470.8 1202.2,492.6 1204.3,496.7 1206.5,492.6 1208.7,496.2 1210.9,475.6 1213.0,442.9 1215.2,445.2 1217.4,470.3 1219.6,485.0 1221.7,486.4 1223.9,491.5 1226.1,518.2 1228.3,534.4 1230.4,540.3 1232.6,545.0 1234.8,542.7 1236.9,560.9 1239.1,597.6 1241.3,594.7 1243.5,605.1 1245.6,595.9 1247.8,595.6 1250.0,586.2 1252.2,581.5 1254.3,581.2 1256.5,575.3 1258.7,591.5 1260.9,603.3 1263.0,601.2 1265.2,589.7 1267.4,603.9 1269.6,607.7 1271.7,606.2 1273.9,604.2 1276.1,604.8 1278.2,603.3 1280.4,597.1 1282.6,595.6 1284.8,622.4 1286.9,622.4 1289.1,621.8 1291.3,617.7 1293.5,618.0 1295.6,619.8 1297.8,619.8 1300.0,620.6 1302.2,618.3 1304.3,595.6 1306.5,584.9 1308.7,578.6 1310.9,583.9 1313.0,590.4 1315.2,575.3 1317.4,580.9 1319.6,586.8 1321.7,588.6 1323.9,553.8 1326.1,553.3 1328.2,552.1 1330.4,551.9 1332.6,539.7 1334.8,556.3 1336.9,546.5 1339.1,549.7 1341.3,560.2 1343.5,561.2 1345.6,553.4 1347.8,559.7 1350.0,566.0 1352.2,563.6 1354.3,539.1 1356.5,537.9 1358.7,540.6 1360.9,540.4 1363.0,541.8 1365.2,546.5 1367.4,547.7 1369.5,545.9 1371.7,564.1 1373.9,565.0 1376.1,565.9 1378.2,566.5 1380.4,562.4 1382.6,564.1 1384.8,553.8 1386.9,554.3 1389.1,558.8 1391.3,542.1 1393.5,515.4 1395.6,512.5 1397.8,500.5 1400.0,498.7 1402.2,497.9 1404.3,485.0 1406.5,460.5 1408.7,475.1 1410.9,465.3 1413.0,468.5 1415.2,460.0 1417.4,473.0 1419.5,473.9 1421.7,471.3 1423.9,468.0 1426.1,434.4 1428.2,411.8 1430.4,414.2 1432.6,347.0 1434.8,312.8 1436.9,316.1 1439.1,323.1 1441.3,299.1 1443.5,310.4 1445.6,331.9 1447.8,337.2 1450.0,347.2 1452.2,341.9 1454.3,356.8 1456.5,327.8 1458.7,315.2 1460.8,319.8 1463.0,308.7 1465.2,325.5 1467.4,346.4 1469.5,349.2 1471.7,389.9 1473.9,360.8 1476.1,316.6 1478.2,316.6 1480.4,376.1 1482.6,373.4 1484.8,374.7 1486.9,340.2 1489.1,381.4 1491.3,395.7 1493.5,370.6 1495.6,344.4 1497.8,332.2 1500.0,348.7 1502.2,348.6 1504.3,312.2 1506.5,318.5 1508.7,314.0 1510.8,245.6 1513.0,189.8 1515.2,141.8 1517.4,146.5 1519.5,123.2 1521.7,103.8 1523.9,158.4 1526.1,168.0 1528.2,139.8 1530.4,162.2 1532.6,134.2" fill="none" stroke="#ffffff" stroke-width="2" stroke-linejoin="round" stroke-linecap="round"/>
<circle cx="1532.6" cy="134.1" r="2.9" fill="#ffffff"/></g>
<text class="ax" x="1571.3" y="74.7" textLength="41.7" lengthAdjust="spacingAndGlyphs">110.000</text>
<text class="ax" x="1571.3" y="133.7" textLength="41.7" lengthAdjust="spacingAndGlyphs">100.000</text>
<text class="ax" x="1571.3" y="192.7" textLength="36.0" lengthAdjust="spacingAndGlyphs">90.000</text>
<text class="ax" x="1571.3" y="251.7" textLength="36.0" lengthAdjust="spacingAndGlyphs">80.000</text>
<text class="ax" x="1571.3" y="310.7" textLength="36.0" lengthAdjust="spacingAndGlyphs">70.000</text>
<text class="ax" x="1571.3" y="369.7" textLength="36.0" lengthAdjust="spacingAndGlyphs">60.000</text>
<text class="ax" x="1571.3" y="428.7" textLength="36.0" lengthAdjust="spacingAndGlyphs">50.000</text>
<text class="ax" x="1571.3" y="487.7" textLength="36.0" lengthAdjust="spacingAndGlyphs">40.000</text>
<text class="ax" x="1571.3" y="545.7" textLength="36.0" lengthAdjust="spacingAndGlyphs">30.000</text>
<text class="ax" x="1571.3" y="604.7" textLength="36.0" lengthAdjust="spacingAndGlyphs">20.000</text>
<text class="ax" x="1571.3" y="663.7" textLength="36.0" lengthAdjust="spacingAndGlyphs">10.000</text>
<text class="ax" x="1571.3" y="722.7" textLength="6.3" lengthAdjust="spacingAndGlyphs">0</text>
<text class="ax" x="1571.3" y="781.7" textLength="42.3" lengthAdjust="spacingAndGlyphs">−10.000</text>
<rect x="1563" y="126" width="49" height="31" rx="2" fill="#ffffff"/>
<text x="1571.3" y="138.8" font-size="12" fill="#131722" stroke="#131722" stroke-width="0.5" textLength="34.2" lengthAdjust="spacingAndGlyphs">99.301</text>
<text x="1571.4" y="152.7" font-size="12" fill="#434651" stroke="#434651" stroke-width="0.3" textLength="28.8" lengthAdjust="spacingAndGlyphs">3d 6h</text>
<rect x="1565.5" y="30.5" width="54" height="27" rx="4" fill="#131722" stroke="#434651" stroke-width="1"/>
<text x="1574.6" y="48.3" font-size="12" fill="#d1d4dc" stroke="#d1d4dc" stroke-width="0.45" textLength="21.4" lengthAdjust="spacingAndGlyphs">USD</text>
<text class="yr" x="53.8" y="812" textLength="27.9" lengthAdjust="spacingAndGlyphs">2012</text>
<text class="yr" x="168.8" y="812" textLength="27.9" lengthAdjust="spacingAndGlyphs">2013</text>
<text class="yr" x="281.8" y="812" textLength="27.9" lengthAdjust="spacingAndGlyphs">2014</text>
<text class="yr" x="394.8" y="812" textLength="27.9" lengthAdjust="spacingAndGlyphs">2015</text>
<text class="yr" x="507.8" y="812" textLength="27.9" lengthAdjust="spacingAndGlyphs">2016</text>
<text class="yr" x="620.8" y="812" textLength="27.9" lengthAdjust="spacingAndGlyphs">2017</text>
<text class="yr" x="733.8" y="812" textLength="27.9" lengthAdjust="spacingAndGlyphs">2018</text>
<text class="yr" x="849.8" y="812" textLength="27.9" lengthAdjust="spacingAndGlyphs">2019</text>
<text class="yr" x="962.8" y="812" textLength="27.9" lengthAdjust="spacingAndGlyphs">2020</text>
<text class="yr" x="1075.8" y="812" textLength="27.9" lengthAdjust="spacingAndGlyphs">2021</text>
<text class="yr" x="1188.8" y="812" textLength="27.9" lengthAdjust="spacingAndGlyphs">2022</text>
<text class="yr" x="1301.8" y="812" textLength="27.9" lengthAdjust="spacingAndGlyphs">2023</text>
<text class="yr" x="1414.8" y="812" textLength="27.9" lengthAdjust="spacingAndGlyphs">2024</text>
<text class="yr" x="1529.8" y="812" textLength="27.9" lengthAdjust="spacingAndGlyphs">2025</text>
<text y="46" font-size="12" fill="#b2b5be" stroke="#b2b5be" stroke-width="0.25"><tspan x="18" textLength="70.7" lengthAdjust="spacingAndGlyphs">Bitcoin/Dólar</tspan> <tspan x="93.7" textLength="85.3" lengthAdjust="spacingAndGlyphs">estadounidense,</tspan> <tspan x="185.9" textLength="14.8" lengthAdjust="spacingAndGlyphs">1S,</tspan> <tspan x="205.5" textLength="49.6" lengthAdjust="spacingAndGlyphs">BITSTAMP</tspan></text>
<text y="46" font-size="12" font-weight="bold" fill="#ffffff"><tspan x="263.5" textLength="34.4" lengthAdjust="spacingAndGlyphs">99.301</tspan> <tspan x="307.1" textLength="34.9" lengthAdjust="spacingAndGlyphs">+4.804</tspan> <tspan x="346.1" textLength="45.1" lengthAdjust="spacingAndGlyphs">(+5,08%)</tspan></text>
<text y="63" font-size="12" fill="#b2b5be" stroke="#b2b5be" stroke-width="0.25"><tspan x="18" textLength="36.9" lengthAdjust="spacingAndGlyphs">Bitcoin</tspan> <tspan x="59.2" textLength="44.3" lengthAdjust="spacingAndGlyphs">Halvings</tspan></text>
<g transform="translate(1532,781.1)">
<circle r="10.1" fill="none" stroke="#f23645" stroke-width="2"/>
<clipPath id="fl"><circle r="8.2"/></clipPath>
<g clip-path="url(#fl)">
<rect x="-9" y="-9" width="18" height="18" fill="#ffffff"/>
<rect x="-9" y="-9" width="18" height="3.5" fill="#f05148"/>
<rect x="-9" y="-2.3" width="18" height="3.9" fill="#f05148"/>
<rect x="-9" y="4.6" width="18" height="4.4" fill="#f05148"/>
<rect x="-9" y="-9" width="11" height="10.6" fill="#1a82e6"/>
<g fill="#ffffff" fill-opacity="0.8"><rect x="-6.4" y="-6.2" width="1.4" height="1"/><rect x="-3.8" y="-6.2" width="1.4" height="1"/><rect x="-1.2" y="-6.2" width="1.4" height="1"/><rect x="-6.4" y="-3.4" width="1.4" height="1"/><rect x="-3.8" y="-3.4" width="1.4" height="1"/><rect x="-1.2" y="-3.4" width="1.4" height="1"/><rect x="-6.4" y="-0.8" width="1.4" height="1"/><rect x="-3.8" y="-0.8" width="1.4" height="1"/><rect x="-1.2" y="-0.8" width="1.4" height="1"/></g>
</g></g>
<g fill="#d1d4dc">
<path d="M10,834.1 H18.1 V843.8 H14 V838 H10 Z"/>
<circle cx="21" cy="836" r="1.9"/>
<path d="M24.3,834.1 H29.4 L25.9,843.8 H21.2 Z"/>
<text x="32.9" y="844" font-size="13.4" fill="#d1d4dc" stroke="#d1d4dc" stroke-width="0.4" textLength="70.8" lengthAdjust="spacingAndGlyphs">TradingView</text>
</g>
</svg></body></html>
